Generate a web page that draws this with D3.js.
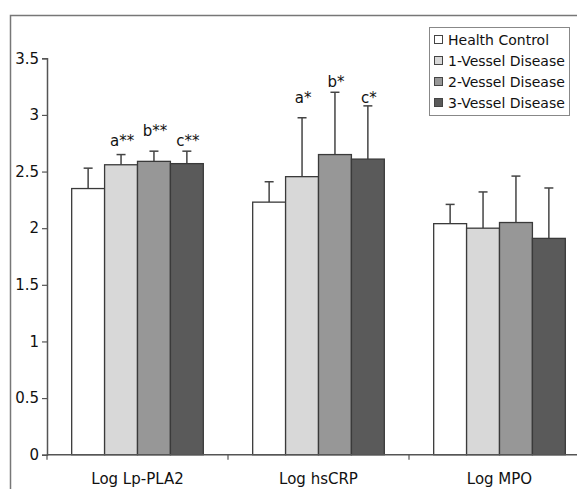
<!DOCTYPE html>
<html>
<head>
<meta charset="utf-8">
<script src="https://cdn.jsdelivr.net/npm/d3@7"></script>
<style>
  body { margin: 0; background: #fff; }
  svg { display: block; }
  text { font-family: 'DejaVu Sans', Verdana, sans-serif; fill: #111; }
</style>
</head>
<body>
<svg id="chart0"></svg>
<script>
// data
var categories = ['Log Lp-PLA2', 'Log hsCRP', 'Log MPO'];
var groups = ['Health Control', '1-Vessel Disease', '2-Vessel Disease', '3-Vessel Disease'];
var means = [
	[2.35, 2.56, 2.59, 2.57],
	[2.23, 2.455, 2.65, 2.61],
	[2.04, 2.0, 2.05, 1.91]
];
var errTops = [
	[2.53, 2.65, 2.68, 2.68],
	[2.41, 2.975, 3.20, 3.08],
	[2.21, 2.32, 2.46, 2.355]
];
// significance labels: category, group, label, height (in axis units)
var annot = [
	['Log Lp-PLA2', '1-Vessel Disease', 'a**', 2.725],
	['Log Lp-PLA2', '2-Vessel Disease', 'b**', 2.81],
	['Log Lp-PLA2', '3-Vessel Disease', 'c**', 2.725],
	['Log hsCRP', '1-Vessel Disease', 'a*', 3.105],
	['Log hsCRP', '2-Vessel Disease', 'b*', 3.245],
	['Log hsCRP', '3-Vessel Disease', 'c*', 3.105]
];
var yTicks = [0, 0.5, 1, 1.5, 2, 2.5, 3, 3.5];
var fills = ['#ffffff', '#d8d8d8', '#979797', '#5a5a5a'];

var width = 577, height = 489;

var svg = d3.select('#chart0')
	.attr('width', width)
	.attr('height', height);

// outer frame (only top and left edges visible)
svg.append('path')
	.attr('d', 'M10.5,489 V15.5 H577')
	.attr('fill', 'none')
	.attr('stroke', '#777')
	.attr('stroke-width', 1.5);

var x0 = d3.scaleBand()
	.domain(categories)
	.range([47, 590])
	.padding(0);

var x1 = d3.scaleBand()
	.domain(groups)
	.range([0, x0.bandwidth()])
	.paddingInner(0)
	.paddingOuter(0.75);

var y = d3.scaleLinear()
	.domain([0, 3.5])
	.range([454.7, 58.3]);

var color = d3.scaleOrdinal().domain(groups).range(fills);

// y axis
var yAxis = svg.append('g')
	.attr('transform', 'translate(47,0)')
	.call(d3.axisLeft(y).tickValues(yTicks).tickSize(5).tickPadding(3)
		.tickFormat(function(d) { return d; }));
yAxis.select('.domain').attr('stroke', '#555').attr('stroke-width', 1.5);
yAxis.selectAll('.tick line').attr('stroke', '#555').attr('stroke-width', 1.2);
yAxis.selectAll('.tick text')
	.attr('font-size', 15)
	.style('font-family', "'DejaVu Sans', Verdana, sans-serif")
	.attr('fill', '#111');

// bars
var rows = [];
categories.forEach(function(c, i) {
	groups.forEach(function(g, j) {
		rows.push({cat: c, grp: g, v: means[i][j], e: errTops[i][j]});
	});
});

var bars = svg.append('g');

// error bars (upper only) drawn first, bar covers bottom
bars.selectAll('line.err')
	.data(rows).enter()
	.append('line')
	.attr('class', 'err')
	.attr('x1', function(d) { return x0(d.cat) + x1(d.grp) + x1.bandwidth() / 2; })
	.attr('x2', function(d) { return x0(d.cat) + x1(d.grp) + x1.bandwidth() / 2; })
	.attr('y1', function(d) { return y(d.v); })
	.attr('y2', function(d) { return y(d.e); })
	.attr('stroke', '#444')
	.attr('stroke-width', 1.5);

bars.selectAll('line.cap')
	.data(rows).enter()
	.append('line')
	.attr('class', 'cap')
	.attr('x1', function(d) { return x0(d.cat) + x1(d.grp) + x1.bandwidth() / 2 - 4.5; })
	.attr('x2', function(d) { return x0(d.cat) + x1(d.grp) + x1.bandwidth() / 2 + 4.5; })
	.attr('y1', function(d) { return y(d.e); })
	.attr('y2', function(d) { return y(d.e); })
	.attr('stroke', '#444')
	.attr('stroke-width', 1.5);

bars.selectAll('rect.bar')
	.data(rows).enter()
	.append('rect')
	.attr('class', 'bar')
	.attr('x', function(d) { return x0(d.cat) + x1(d.grp); })
	.attr('y', function(d) { return y(d.v); })
	.attr('width', x1.bandwidth())
	.attr('height', function(d) { return y(0) - y(d.v); })
	.attr('fill', function(d) { return color(d.grp); })
	.attr('stroke', '#3a3a3a')
	.attr('stroke-width', 1.3);

// x axis
var xAxis = svg.append('g')
	.attr('transform', 'translate(0,' + y(0) + ')');
xAxis.append('line')
	.attr('x1', 47).attr('x2', width)
	.attr('stroke', '#555').attr('stroke-width', 1.5);
xAxis.selectAll('line.xt')
	.data(categories).enter()
	.append('line')
	.attr('class', 'xt')
	.attr('x1', function(d) { return x0(d); })
	.attr('x2', function(d) { return x0(d); })
	.attr('y1', 0).attr('y2', 5)
	.attr('stroke', '#555').attr('stroke-width', 1.2);
xAxis.selectAll('text')
	.data(categories).enter()
	.append('text')
	.attr('x', function(d) { return x0(d) + x0.bandwidth() / 2; })
	.attr('y', 29)
	.attr('text-anchor', 'middle')
	.attr('font-size', 15)
	.text(function(d) { return d; });

// significance labels
svg.selectAll('text.annot')
	.data(annot).enter()
	.append('text')
	.attr('class', 'annot')
	.attr('x', function(d) { return x0(d[0]) + x1(d[1]) + x1.bandwidth() / 2 + 1; })
	.attr('y', function(d) { return y(d[3]); })
	.attr('text-anchor', 'middle')
	.attr('font-size', 15)
	.text(function(d) { return d[2]; });

// legend
var legend = svg.append('g');
legend.append('rect')
	.attr('x', 429.5).attr('y', 27.5)
	.attr('width', 140).attr('height', 88)
	.attr('fill', '#fff')
	.attr('stroke', '#888')
	.attr('stroke-width', 1);

var ly = d3.scaleBand()
	.domain(groups)
	.range([29, 113])
	.padding(0);

legend.selectAll('rect.sw')
	.data(groups).enter()
	.append('rect')
	.attr('class', 'sw')
	.attr('x', 434.5)
	.attr('y', function(d) { return ly(d) + ly.bandwidth() / 2 - 4; })
	.attr('width', 8).attr('height', 8)
	.attr('fill', function(d) { return color(d); })
	.attr('stroke', '#444')
	.attr('stroke-width', 1);

legend.selectAll('text')
	.data(groups).enter()
	.append('text')
	.attr('x', 448)
	.attr('y', function(d) { return ly(d) + ly.bandwidth() / 2 + 5; })
	.attr('font-size', 14)
	.text(function(d) { return d; });
</script>
</body>
</html>
